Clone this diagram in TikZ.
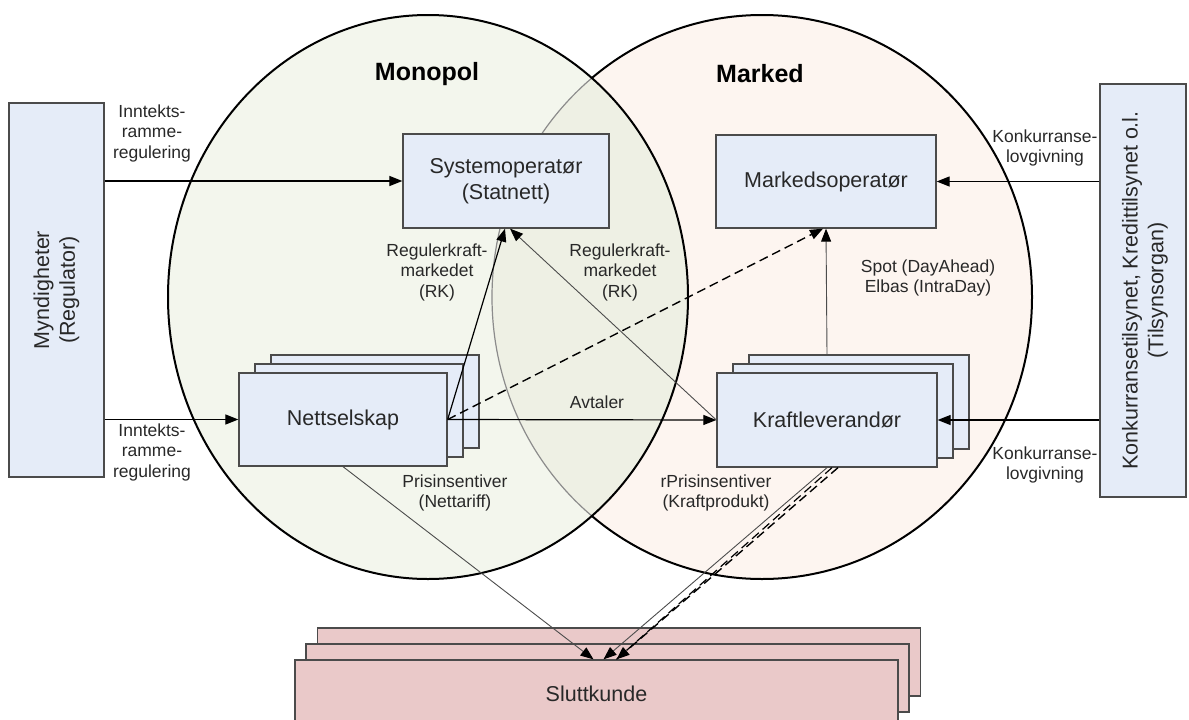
\documentclass[tikz,border=0pt]{standalone}
\usepackage{fontspec}
\setmainfont{Liberation Sans}
\usetikzlibrary{arrows.meta,calc}
\definecolor{boxfill}{RGB}{229,236,248}
\definecolor{boxline}{RGB}{75,75,75}
\definecolor{skfill}{RGB}{234,201,201}
\definecolor{lfill}{RGB}{243,246,237}
\definecolor{rfill}{RGB}{253,245,240}
\definecolor{lensfill}{RGB}{238,240,228}
\definecolor{txt}{RGB}{40,40,40}
\newcommand\bigf{\fontsize{21.5}{25.8}\selectfont}
\newcommand\smallf{\fontsize{17.5}{20.5}\selectfont}
\newcommand\headf{\fontsize{25}{30}\selectfont\bfseries}
\begin{document}
\begin{tikzpicture}[x=1pt,y=-1pt,
 box/.style={draw=boxline, fill=boxfill, line width=1.3pt, inner sep=0pt, align=center, font=\bigf, text=txt},
 skbox/.style={draw=boxline, fill=skfill, line width=1.3pt, inner sep=0pt, align=center, font=\bigf, text=txt},
 lbl/.style={font=\smallf, align=center, text=txt, inner sep=0pt},
 vtext/.style={font=\bigf, align=center, text=txt, inner sep=0pt, rotate=90},
 head/.style={font=\headf, text=black, inner sep=0pt},
 arr/.style={line width=1.2pt, -{Triangle[length=13pt,width=10pt]}},
 arrthin/.style={line width=0.9pt, draw=black!70, -{Triangle[length=13pt,width=10pt,color=black]}},
 arrdash/.style={line width=1.4pt, dash pattern=on 9pt off 5pt, -{Triangle[length=13pt,width=10pt]}},
 ring/.style={line width=2pt, draw=black}
]
\useasboundingbox (0,0) rectangle (1189,720);
% ellipses
\fill[rfill] (762,297) ellipse [x radius=270pt, y radius=282pt];
\draw[ring] (762,297) ellipse [x radius=270pt, y radius=282pt];
\fill[lfill] (428,297) ellipse [x radius=260pt, y radius=282pt];
\begin{scope}
 \clip (428,297) ellipse [x radius=260pt, y radius=282pt];
 \fill[lensfill] (762,297) ellipse [x radius=270pt, y radius=282pt];
 \draw[line width=1.2pt, draw=black!45] (762,297) ellipse [x radius=270pt, y radius=282pt];
\end{scope}
\draw[ring] (428,297) ellipse [x radius=260pt, y radius=282pt];

\node[head] (monopol) at (427,74) {Monopol};
\node[head] (marked) at (760,74) {Marked};

% side boxes
\node[box, minimum width=95pt, minimum height=374pt] (myn) at (56.5,290) {};
\node[vtext] (mynt) at (myn.center) {Myndigheter\\(Regulator)};
\node[box, minimum width=86pt, minimum height=413pt] (kon) at (1143,290.5) {};
\node[vtext] (kont) at (1145,290.5) {Konkurransetilsynet, Kredittilsynet o.l.\\(Tilsynsorgan)};

% operators
\node[box, minimum width=206pt, minimum height=94pt] (sys) at (506,181) {Systemoperatør\\(Statnett)};
\node[box, minimum width=220pt, minimum height=93pt] (mo) at (826,181.5) {Markedsoperatør};

% stacks
\node[box, minimum width=208pt, minimum height=93pt] (nsB) at (375,401.5) {};
\node[box, minimum width=208pt, minimum height=93pt] (nsM) at (359,410.5) {};
\node[box, minimum width=208pt, minimum height=93pt] (ns) at (343,419.5) {Nettselskap};
\node[box, minimum width=220pt, minimum height=94pt] (klB) at (859,402) {};
\node[box, minimum width=220pt, minimum height=94pt] (klM) at (843,411) {};
\node[box, minimum width=220pt, minimum height=94pt] (kl) at (827,420) {Kraftleverandør};

\node[skbox, minimum width=603pt, minimum height=68pt] (skB) at (619,662) {};
\node[skbox, minimum width=603pt, minimum height=68pt] (skM) at (607.5,678) {};
\node[skbox, minimum width=603pt, minimum height=68pt] (sk) at (596.5,694) {Sluttkunde};

% labels
\node[lbl] (lab1) at (152,133) {Inntekts-\\ramme-\\regulering};
\node[lbl] (lab2) at (152,452) {Inntekts-\\ramme-\\regulering};
\node[lbl] (lab3) at (1045,148) {Konkurranse-\\lovgivning};
\node[lbl] (lab4) at (1045,465) {Konkurranse-\\lovgivning};
\node[lbl] (lab5) at (437,272) {Regulerkraft-\\markedet\\(RK)};
\node[lbl] (lab6) at (620,272) {Regulerkraft-\\markedet\\(RK)};
\node[lbl] (lab7) at (597,402) {Avtaler};
\node[lbl] (lab8) at (928,278) {Spot (DayAhead)\\Elbas (IntraDay)};
\node[lbl] (lab9) at (455,493) {Prisinsentiver\\(Nettariff)};
\node[lbl] (lab10) at (716,493) {rPrisinsentiver\\(Kraftprodukt)};

% connectors
\draw[arr] (myn.east |- sys.west) -- (sys.west);
\draw[arr] (myn.east |- ns.west) -- (ns.west);
\draw[arr] (kon.west |- mo.east) -- (mo.east);
\draw[arr] (kon.west |- kl.east) -- (kl.east);
\draw[arr] (ns.east) -- (kl.west);
\draw[arr] (ns.east) -- ($(sys.south)+(-1,0)$);
\draw[arrthin] (kl.west) -- ($(sys.south)+(4,0)$);
\draw[arrdash] (ns.east) -- ($(mo.south)+(-3,0)$);
\draw[arrthin] (kl.center |- klB.north) -- (mo.south);
\draw[arrthin] (ns.south) -- ($(sk.north)+(-3,0)$);
\draw[arrthin] (kl.south) -- ($(sk.north)+(7,0)$);
\draw[line width=1.2pt, dash pattern=on 9pt off 5pt] ($(kl.south)+(5,0)$) -- ($(sk.north)+(20,0)$);
\draw[arrdash] ($(kl.south)+(11,0)$) -- ($(sk.north)+(20,0)$);
\end{tikzpicture}
\end{document}
